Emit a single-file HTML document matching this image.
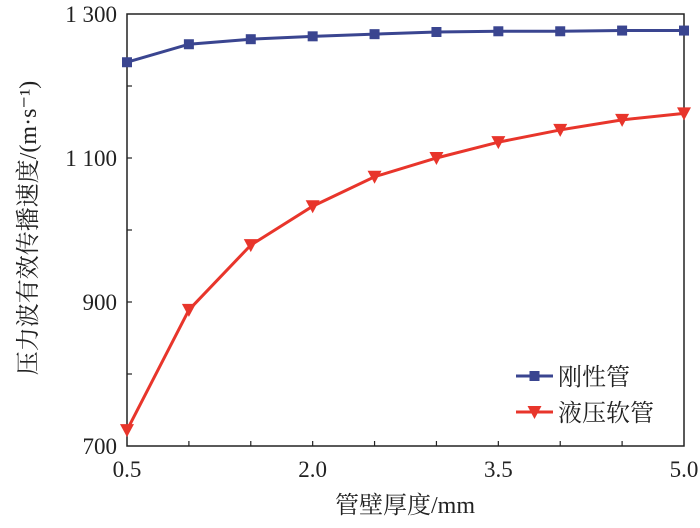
<!DOCTYPE html>
<html><head><meta charset="utf-8"><style>
body{margin:0;background:#fff;}
svg text{font-family:"Liberation Serif","Noto Serif CJK SC",serif;fill:#222;}
</style></head><body>
<svg width="700" height="523" viewBox="0 0 700 523" xmlns="http://www.w3.org/2000/svg">
<g id="plot"></g>
</svg>
<script>
const xValues=[0.5,1.0,1.5,2.0,2.5,3.0,3.5,4.0,4.5,5.0];
const rigidValues=[1233,1258,1265,1269,1272,1275,1276,1276,1277,1277];
const hoseValues=[722,889,979,1033,1074,1100,1122,1139,1153,1162];
const xTickLabels=["0.5","2.0","3.5","5.0"];
const yTickLabels=["700","900","1 100","1 300"];
const L=127,R=684,T=14,B=446;
const xs=v=>L+(v-0.5)/4.5*(R-L);
const ys=v=>B-(v-700)/600*(B-T);
const NS="http://www.w3.org/2000/svg";
const g=document.getElementById('plot');
function mk(tag,attrs){const e=document.createElementNS(NS,tag);for(const k in attrs)e.setAttribute(k,attrs[k]);g.appendChild(e);return e;}
let e;
e=mk('rect',{x:L,y:T,width:R-L,height:B-T,fill:'none',stroke:'#222','stroke-width':1.5});


for(let v=1;v<9;v++){const x=xs(0.5+v*0.5);
e=mk('line',{x1:x,x2:x,y1:B,y2:B-5,stroke:'#222','stroke-width':1.2});

}
for(let v=800;v<1300;v+=100){const y=ys(v);
e=mk('line',{x1:L,x2:L+5,y1:y,y2:y,stroke:'#222','stroke-width':1.2});

}
xTickLabels.forEach(t=>{e=mk('text',{x:xs(parseFloat(t)),y:477,'font-size':23,'text-anchor':'middle'});e.textContent=t;

});
yTickLabels.forEach(t=>{e=mk('text',{x:117,y:ys(parseFloat(t.replace(' ','')))+8,'font-size':23,'text-anchor':'end'});e.textContent=t;

});
e=mk('text',{x:405,y:513,'font-size':24,'text-anchor':'middle'});e.textContent='管壁厚度/mm';


e=mk('text',{x:0,y:0,'font-size':24,'text-anchor':'middle',transform:'translate(36,228) rotate(-90)'});e.textContent='压力波有效传播速度/(m·s⁻¹)';


e=mk('polyline',{points:xValues.map((x,i)=>xs(x)+','+ys(rigidValues[i])).join(' '),fill:'none',stroke:'#3a4590','stroke-width':3});


xValues.forEach((x,i)=>{e=mk('rect',{x:xs(x)-5,y:ys(rigidValues[i])-5,width:10,height:10,fill:'#3a4590'});

});
e=mk('polyline',{points:xValues.map((x,i)=>xs(x)+','+ys(hoseValues[i])).join(' '),fill:'none',stroke:'#e8352b','stroke-width':3});


function tri(cx,cy){return (cx-7)+','+(cy-6)+' '+(cx+7)+','+(cy-6)+' '+cx+','+(cy+7);}
xValues.forEach((x,i)=>{e=mk('polygon',{points:tri(xs(x),ys(hoseValues[i])),fill:'#e8352b'});

});
e=mk('line',{x1:516,x2:553,y1:376,y2:376,stroke:'#3a4590','stroke-width':3});


e=mk('rect',{x:529.5,y:371,width:10,height:10,fill:'#3a4590'});


e=mk('text',{x:558,y:385,'font-size':24});e.textContent='刚性管';


e=mk('line',{x1:516,x2:553,y1:412,y2:412,stroke:'#e8352b','stroke-width':3});


e=mk('polygon',{points:tri(534.5,412),fill:'#e8352b'});


e=mk('text',{x:558,y:421,'font-size':24});e.textContent='液压软管';


</script>
</body></html>
